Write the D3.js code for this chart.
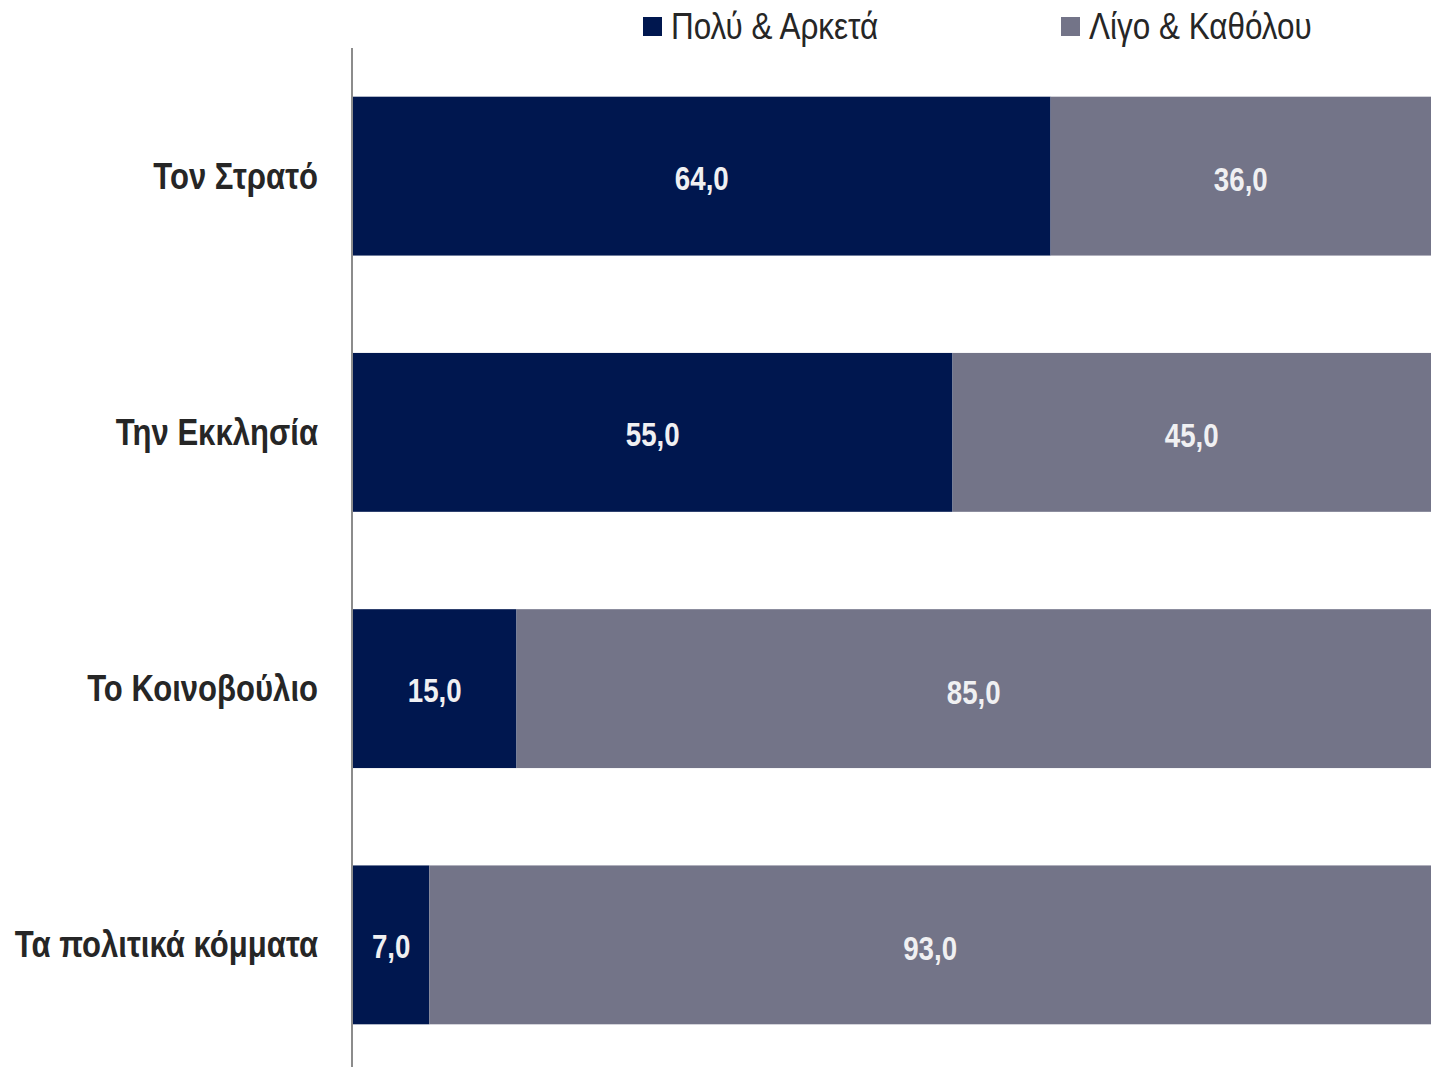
<!DOCTYPE html>
<html>
<head>
<meta charset="utf-8">
<script src="https://cdn.jsdelivr.net/npm/d3@7"></script>
<style>
  html, body { margin: 0; padding: 0; background: #ffffff; overflow: hidden; }
  svg { display: block; }
  text { font-family: "Liberation Sans", Arial, sans-serif; }
</style>
</head>
<body>
<svg id="chart" width="1431" height="1067"></svg>
<script>
const categories = ["Τον Στρατό", "Την Εκκλησία", "Το Κοινοβούλιο", "Τα πολιτικά κόμματα"];
const seriesNames = ["Πολύ & Αρκετά", "Λίγο & Καθόλου"];
const muchValues = [64.0, 55.0, 15.0, 7.0];
const littleValues = [36.0, 45.0, 85.0, 93.0];
const colors = ["#00174f", "#737488"];

const W = 1431, H = 1067;
const NARROW = 0.84;
const svg = d3.select("#chart");

const rows = categories.map((c, i) => ({ cat: c, much: muchValues[i], little: littleValues[i] }));
const stack = d3.stack().keys(["much", "little"]);
const series = stack(rows);

const x = d3.scaleLinear().domain([0, 100]).range([353, 1443]);
const y = d3.scaleBand().domain(categories).range([48, 1073]).paddingInner(0.38).paddingOuter(0.19);

const fmt = v => d3.format(".1f")(v).replace(".", ",");

series.forEach((s, si) => {
  const g = svg.append("g");
  g.selectAll("rect").data(s).enter().append("rect")
    .attr("x", d => x(d[0]))
    .attr("y", d => y(d.data.cat))
    .attr("width", d => x(d[1]) - x(d[0]))
    .attr("height", y.bandwidth())
    .attr("fill", colors[si]);
  g.selectAll("text").data(s).enter().append("text")
    .attr("transform", d => {
      const cx = (x(d[0]) + Math.min(x(d[1]), W)) / 2;
      const cy = y(d.data.cat) + y.bandwidth() / 2 + (si === 0 ? 1.5 : 3);
      return `translate(${cx},${cy}) scale(${NARROW},1)`;
    })
    .attr("text-anchor", "middle")
    .attr("dy", "0.36em")
    .attr("font-size", 33)
    .attr("font-weight", "bold")
    .attr("fill", "#f0f0f2")
    .text(d => fmt(d[1] - d[0]));
});

// Category axis
const axis = d3.axisLeft(y).tickSize(0).tickPadding(34);
const ag = svg.append("g").attr("transform", "translate(352,0)").call(axis);
ag.attr("font-family", null).attr("font-size", null);
ag.select(".domain").attr("stroke", "#8c8c8c").attr("stroke-width", 2).attr("d", "M0,48V1067");
ag.selectAll(".tick text")
  .attr("x", 0)
  .attr("transform", `translate(-34,0) scale(${NARROW},1)`)
  .attr("font-size", 37)
  .attr("font-weight", "bold")
  .attr("fill", "#262626")
  .attr("dy", "0.34em");

// Legend
const legendX = [643, 1061];
const lg = svg.append("g");
seriesNames.forEach((n, i) => {
  lg.append("rect").attr("x", legendX[i]).attr("y", 17).attr("width", 19).attr("height", 19).attr("fill", colors[i]);
  lg.append("text")
    .attr("transform", `translate(${legendX[i] + 28},39) scale(0.85,1)`)
    .attr("font-size", 37).attr("fill", "#262626").text(n);
});
</script>
</body>
</html>
